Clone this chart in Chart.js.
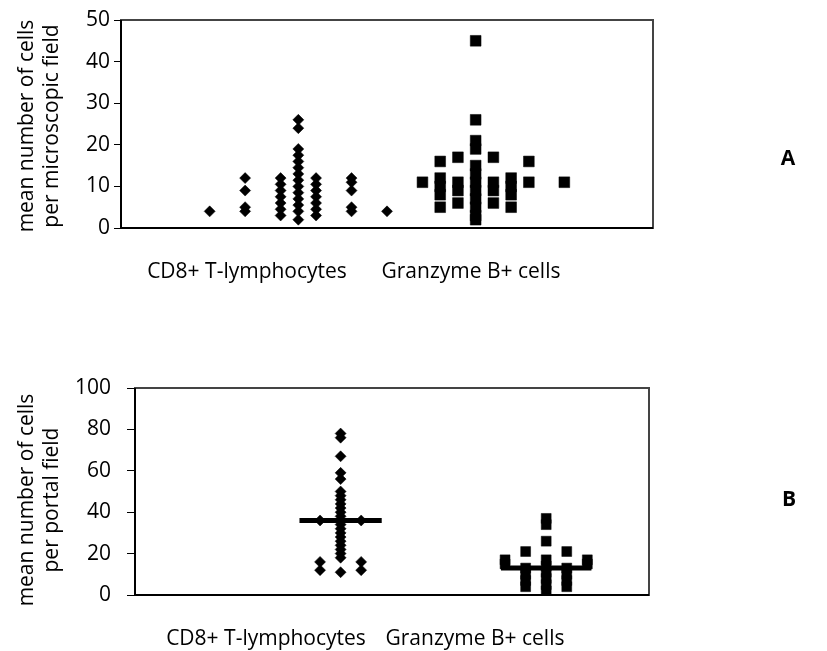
<!DOCTYPE html>
<html>
<head>
<meta charset="utf-8">
<script src="https://cdn.jsdelivr.net/npm/chart.js@4.4.1/dist/chart.umd.min.js"></script>
<style>
  body { margin: 0; background: #fff; width: 827px; height: 651px; position: relative; overflow: hidden; font-family: 'Open Sans', sans-serif; }
  canvas { position: absolute; left: 0; }
  .lbl { position: absolute; font-size: 21px; color: #000; white-space: nowrap; transform: translate(-50%, -50%); }
  .tit { position: absolute; font-size: 21px; line-height: 25px; color: #000; white-space: nowrap; text-align: center; transform: translate(-50%, -50%) rotate(-90deg); }
  .panel { position: absolute; font-size: 21px; font-weight: bold; color: #000; transform: translate(-50%, -50%); }
</style>
</head>
<body>
<canvas id="chartA" width="827" height="300" style="top:0"></canvas>
<canvas id="chartB" width="827" height="311" style="top:340px"></canvas>

<div class="tit" id="ta" style="left:38px; top:126px"></div>
<div class="tit" id="tb" style="left:38px; top:500px"></div>
<div class="lbl" id="a1" style="left:247px; top:270px"></div>
<div class="lbl" id="a2" style="left:471px; top:270px"></div>
<div class="lbl" id="b1" style="left:266px; top:637px"></div>
<div class="lbl" id="b2" style="left:475px; top:637px"></div>
<div class="panel" style="left:788px; top:157px">A</div>
<div class="panel" style="left:789px; top:498px">B</div>

<script>
// categorias e títulos
const categorias = ['CD8+ T-lymphocytes', 'Granzyme B+ cells'];
const tituloA = ['mean number of cells', 'per microscopic field'];
const tituloB = ['mean number of cells', 'per portal field'];
const ticksA = [0, 10, 20, 30, 40, 50];
const ticksB = [0, 20, 40, 60, 80, 100];

// Painel A - por campo microscópico (colunas deslocadas em x)
const cd8CampoX = [0.5, 0.7, 0.9, 1.0, 1.1, 1.3, 1.5];
const cd8CampoY = [
    [4],
    [12, 9, 5, 4],
    [12, 10.5, 9, 7.5, 6, 4.5, 3],
    [26, 24, 19, 17.5, 16, 14.5, 13, 11.5, 10, 8.5, 7, 5.5, 4, 2],
    [12, 10.5, 9, 7.5, 6, 4.5, 3],
    [12, 11, 9, 5, 4],
    [4]
];
const grzCampoX = [1.7, 1.8, 1.9, 2.0, 2.1, 2.2, 2.3, 2.5];
const grzCampoY = [
    [11],
    [16, 12, 10, 8, 5],
    [17, 11, 9, 6],
    [45, 26, 21, 19, 15, 13, 11, 9, 7, 5, 3, 2],
    [17, 11, 9, 6],
    [12, 10, 8, 5],
    [16, 11],
    [11]
];

// Painel B - por campo portal
const cd8PortalX = [0.9, 1.0, 1.1];
const cd8PortalY = [
    [36, 16, 12],
    [78, 76, 67, 59, 56, 50, 48, 46, 44, 42, 40, 38, 36, 34, 32, 30, 28, 26, 24, 22, 20, 18, 11],
    [36, 16, 12]
];
const grzPortalX = [1.8, 1.9, 2.0, 2.1, 2.2];
const grzPortalY = [
    [17, 15],
    [21, 13, 10, 7, 4],
    [37, 34, 26, 17, 14, 11, 8, 5, 2],
    [21, 13, 10, 7, 4],
    [17, 15]
];
const medianas = [36, 13];

document.getElementById('a1').innerText = categorias[0];
document.getElementById('a2').innerText = categorias[1];
document.getElementById('b1').innerText = categorias[0];
document.getElementById('b2').innerText = categorias[1];
document.getElementById('ta').innerHTML = tituloA.join('<br>');
document.getElementById('tb').innerHTML = tituloB.join('<br>');

function pontos(xs, ys) {
    return xs.flatMap((x, i) => ys[i].map(y => ({ x: x, y: y })));
}

// moldura em volta da área do gráfico
const moldura = {
    id: 'moldura',
    afterDraw(chart) {
        const { ctx, chartArea: a } = chart;
        ctx.save();
        ctx.strokeStyle = '#444';
        ctx.lineWidth = 2;
        ctx.strokeRect(a.left, a.top, a.right - a.left, a.bottom - a.top);
        ctx.strokeStyle = '#000';
        ctx.beginPath();
        ctx.moveTo(a.left, a.top);
        ctx.lineTo(a.left, a.bottom);
        ctx.lineTo(a.right, a.bottom);
        ctx.stroke();
        ctx.restore();
    }
};

function eixoY(ticks, largura, tickLen, pad) {
    return {
        min: ticks[0],
        max: ticks[ticks.length - 1],
        afterFit: s => { s.width = largura; },
        afterBuildTicks: s => { s.ticks = ticks.map(v => ({ value: v })); },
        ticks: { color: '#000', padding: pad, font: { family: 'Open Sans', size: 21 } },
        grid: { drawOnChartArea: false, tickLength: tickLen, color: '#000' },
        border: { color: '#000', width: 1 }
    };
}

const diamante = { pointStyle: 'rectRot', pointRadius: 5.5, backgroundColor: '#000', borderColor: '#000', borderWidth: 0.5 };
const quadrado = { pointStyle: 'rect', pointRadius: 7.6, backgroundColor: '#000', borderColor: '#000', borderWidth: 0.5 };

new Chart(document.getElementById('chartA'), {
    type: 'scatter',
    data: {
        datasets: [
            { data: pontos(cd8CampoX, cd8CampoY), ...diamante },
            { data: pontos(grzCampoX, grzCampoY), ...quadrado }
        ]
    },
    options: {
        responsive: false,
        animation: false,
        layout: { padding: { left: 0, top: 20, right: 174, bottom: 72 } },
        plugins: { legend: { display: false }, tooltip: { enabled: false } },
        scales: {
            x: { type: 'linear', min: 0, max: 3, display: false },
            y: eixoY(ticksA, 121, 7, 4)
        }
    },
    plugins: [moldura]
});

new Chart(document.getElementById('chartB'), {
    type: 'scatter',
    data: {
        datasets: [
            { type: 'line', data: [{ x: 0.8, y: medianas[0] }, { x: 1.2, y: medianas[0] }], borderColor: '#000', borderWidth: 5, pointRadius: 0 },
            { type: 'line', data: [{ x: 1.78, y: medianas[1] }, { x: 2.22, y: medianas[1] }], borderColor: '#000', borderWidth: 5, pointRadius: 0 },
            { data: pontos(cd8PortalX, cd8PortalY), ...diamante },
            { data: pontos(grzPortalX, grzPortalY), ...quadrado, pointRadius: 7 }
        ]
    },
    options: {
        responsive: false,
        animation: false,
        layout: { padding: { left: 0, top: 48, right: 178, bottom: 56 } },
        plugins: { legend: { display: false }, tooltip: { enabled: false } },
        scales: {
            x: { type: 'linear', min: 0, max: 2.5, display: false },
            y: eixoY(ticksB, 135, 8, 16)
        }
    },
    plugins: [moldura]
});
</script>
</body>
</html>
